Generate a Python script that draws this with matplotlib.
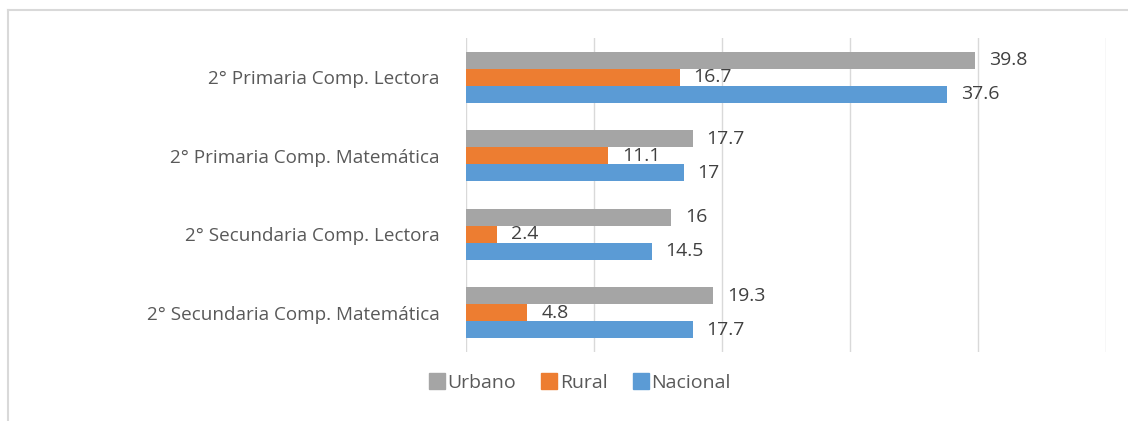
import numpy as np
import matplotlib.pyplot as plt
from matplotlib.lines import Line2D

categorias = ["2° Primaria Comp. Lectora",
              "2° Primaria Comp. Matemática",
              "2° Secundaria Comp. Lectora",
              "2° Secundaria Comp. Matemática"]
urbano = [39.8, 17.7, 16, 19.3]
rural = [16.7, 11.1, 2.4, 4.8]
nacional = [37.6, 17, 14.5, 17.7]
series = ["Urbano", "Rural", "Nacional"]
colores = ["#A5A5A5", "#ED7D31", "#5B9BD5"]

plt.rcParams['font.family'] = ['Open Sans', 'DejaVu Sans']

fig = plt.figure(figsize=(11.28, 4.21), dpi=100)
ax = fig.add_axes([466/1128, 1-352/421, 640/1128, 314/421])

y = np.arange(len(categorias))
h = 0.217
for i, (vals, nombre, c) in enumerate(zip([urbano, rural, nacional], series, colores)):
    pos = y + (i - 1) * h
    ax.barh(pos, vals, height=h, color=c, label=nombre, zorder=2)
    for p, v in zip(pos, vals):
        ax.annotate(f"{v:g}", (v, p), xytext=(10, 0), textcoords="offset points",
                    va="center", ha="left", fontsize=14, color="#404040")

ax.set_xlim(0, 50)
ax.set_ylim(len(categorias) - 0.5, -0.5)
ax.set_xticks([0, 10, 20, 30, 40, 50])
ax.set_xticklabels([])
ax.tick_params(axis="x", length=0)
ax.tick_params(axis="y", length=0, pad=19, labelsize=13.6, labelcolor="#595959")
ax.set_yticks(y)
ax.set_yticklabels(categorias)
ax.grid(axis="x", color="#D9D9D9", linewidth=1, zorder=0)
for s in ax.spines.values():
    s.set_visible(False)

handles = [Line2D([], [], marker="s", linestyle="", markersize=11, color=c) for c in colores]
leg = fig.legend(handles, series, loc="center", bbox_to_anchor=(579/1128, 1-383/421),
                 ncol=3, frameon=False, fontsize=14, handletextpad=0.05,
                 columnspacing=1.2, handlelength=1.0)
for t in leg.get_texts():
    t.set_color("#595959")

# marco del grafico
fig.add_artist(Line2D([8/1128, 1], [1-10/421, 1-10/421], color="#D9D9D9", linewidth=1.5))
fig.add_artist(Line2D([8/1128, 8/1128], [0, 1-10/421], color="#D9D9D9", linewidth=1.5))

fig.savefig("out.png", dpi=100)
